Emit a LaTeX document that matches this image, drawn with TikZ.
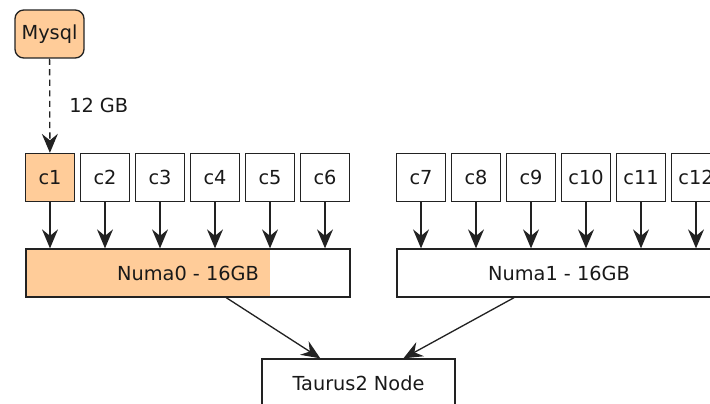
\documentclass[tikz,border=0pt]{standalone}
\usepackage{fontspec}
\setmainfont{DejaVu Sans}
\usepackage{xcolor}
\usetikzlibrary{positioning, arrows.meta, calc}

\definecolor{memfill}{HTML}{FFCC99}
\definecolor{linecol}{HTML}{222222}

\begin{document}
\begin{tikzpicture}[
        x=0.02cm, y=-0.02cm,
        >={Stealth[length=3.8mm, width=3.2mm, inset=1.3mm]},
        every node/.style={font=\fontsize{11}{13}\selectfont, text=black!90},
        line width=0.75pt, draw=linecol,
        box/.style={draw=linecol, inner sep=0pt, minimum height=0.96cm},
        core/.style={box, minimum width=0.97cm},
        numa/.style={box, minimum width=6.48cm},
        db/.style={box, rounded corners=5pt, fill=memfill, minimum width=1.38cm},
        link/.style={->, draw=linecol}
    ]
        \useasboundingbox (0,0) rectangle (710,403);
        \def\coresep{55}

        \node[db] (mysql) at (49.5,34) {Mysql};

        % cores of both sockets
        \foreach \i in {1,...,6}
            \node[core] (c\i) at ({50+(\i-1)*\coresep}, 177.5) {c\i};
        \foreach \i in {7,...,12}
            \node[core] (c\i) at ({421+(\i-7)*\coresep}, 177.5) {c\i};
        \node[core, fill=memfill] at (c1) {c1};

        \node[numa, path picture={
            \fill[memfill] (path picture bounding box.north west)
                rectangle (c5.center |- path picture bounding box.south);
        }] (numa0) at (188,273) {Numa0 - 16GB};
        \node[numa] (numa1) at (559,273) {Numa1 - 16GB};
        \node[box, minimum width=3.86cm] (taurus) at (358.5,383) {Taurus2 Node};

        \draw[link, dash pattern=on 3.5pt off 2.5pt] (mysql) -- node[right=0.26cm] {12 GB} (c1);
        \foreach \i in {1,...,6}
            \draw[link] (c\i) -- (c\i |- numa0.north);
        \foreach \i in {7,...,12}
            \draw[link] (c\i) -- (c\i |- numa1.north);
        \draw[link] (numa0) -- (taurus);
        \draw[link] (numa1) -- (taurus);
    \end{tikzpicture}
\end{document}
